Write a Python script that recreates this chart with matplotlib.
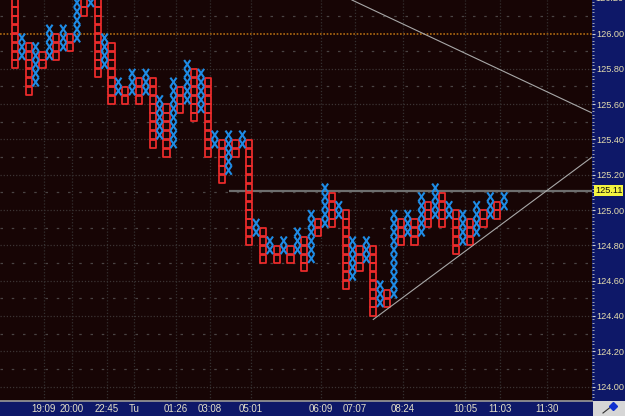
import numpy as np
import matplotlib
matplotlib.use("Agg")
import matplotlib.pyplot as plt
from matplotlib.collections import LineCollection, PatchCollection
from matplotlib.patches import Rectangle
from matplotlib.ticker import MultipleLocator
from matplotlib.transforms import blended_transform_factory

# point & figure columns, box size 0.05 (high / low box of each column)
col_type = ["O", "X"] * 36
col_high = [126.15, 125.95, 125.90, 125.90, 125.85, 126.00, 125.95, 126.00, 125.95, 126.20,
            126.15, 126.30, 126.25, 125.95, 125.90, 125.70, 125.65, 125.75, 125.70, 125.75,
            125.70, 125.60, 125.55, 125.70, 125.65, 125.80, 125.75, 125.75, 125.70, 125.40,
            125.35, 125.40, 125.35, 125.40, 125.35, 124.90, 124.85, 124.80, 124.75, 124.80,
            124.75, 124.85, 124.80, 124.95, 124.90, 125.10, 125.05, 125.00, 124.95, 124.80,
            124.75, 124.80, 124.75, 124.55, 124.50, 124.95, 124.90, 124.95, 124.90, 125.05,
            125.00, 125.10, 125.05, 125.00, 124.95, 124.95, 124.90, 125.00, 124.95, 125.05,
            125.00, 125.05]
col_low = [125.80, 125.85, 125.65, 125.70, 125.80, 125.85, 125.85, 125.90, 125.90, 125.95,
           126.10, 126.15, 125.75, 125.80, 125.60, 125.65, 125.60, 125.65, 125.60, 125.65,
           125.35, 125.40, 125.30, 125.35, 125.55, 125.60, 125.50, 125.55, 125.30, 125.35,
           125.15, 125.20, 125.30, 125.35, 124.80, 124.85, 124.70, 124.75, 124.70, 124.75,
           124.70, 124.75, 124.65, 124.70, 124.85, 124.90, 124.90, 124.95, 124.55, 124.60,
           124.65, 124.70, 124.40, 124.45, 124.45, 124.50, 124.80, 124.85, 124.80, 124.85,
           124.90, 124.95, 124.90, 124.95, 124.75, 124.80, 124.80, 124.85, 124.90, 124.95,
           124.95, 125.00]
box = 0.05

time_ticks = [4.14, 8.27, 13.35, 17.27, 23.37, 28.30, 34.25, 44.41, 49.35, 56.31, 65.31, 70.39, 77.21]
time_labels = ["19:09", "20:00", "22:45", "Tu", "01:26", "03:08", "05:01",
               "06:09", "07:07", "08:24", "10:05", "11:03", "11:30"]

last_price = 125.11
last_line_start = 31
upper_trend = ([48.9, 83.75], [126.19, 125.55])
lower_trend = ([52.0, 83.75], [124.38, 125.30])

plt.rcParams["font.family"] = ["Liberation Sans", "DejaVu Sans"]
fs = 6.6

navy = "#0e1868"
fig = plt.figure(figsize=(6.25, 4.16), dpi=100)
fig.patch.set_facecolor(navy)
ax = fig.add_axes([0, 15 / 416, 592 / 625, 401 / 416])
ax.set_facecolor("#170505")
ax.set_xlim(-2.18, 83.75)
ax.set_ylim(123.918, 126.19)

# horizontal grid
for lvl in np.arange(124.0, 126.3, 0.1):
    lvl = round(lvl, 2)
    if abs(lvl - 126.0) < 1e-6:
        continue
    if round(lvl * 10) % 2 == 0:
        ax.axhline(lvl, color="#3c3434", lw=0.9, ls=(0, (1, 1.5)), zorder=1)
    else:
        ax.axhline(lvl, color="#4a4444", lw=0.9, ls=(0, (2, 7)), zorder=1)
ax.axhline(126.0, color="#b06a10", lw=1.2, ls=(0, (1, 1)), zorder=1)

ax.set_xticks(time_ticks)
ax.set_xticklabels(time_labels)
ax.grid(axis="x", color="#343030", lw=0.9, ls=(0, (1, 1.5)), zorder=1)

# boxes
o_boxes = []
x_segs = []
hw = 0.45
for i, (t, hi, lo) in enumerate(zip(col_type, col_high, col_low)):
    n = int(round((hi - lo) / box)) + 1
    for k in range(n):
        p = lo + k * box
        if t == "O":
            o_boxes.append(Rectangle((i - hw, p + 0.002), 2 * hw, box - 0.004))
        else:
            x_segs.append([(i - hw, p), (i + hw, p + box)])
            x_segs.append([(i - hw, p + box), (i + hw, p)])

ax.add_collection(PatchCollection(o_boxes, facecolor="none", edgecolor="#f02c2c",
                                  linewidth=1.25, zorder=3))
ax.add_collection(LineCollection(x_segs, colors="#1e8ce6", linewidths=1.5, zorder=3))

# last price line and trend lines
ax.hlines(last_price, last_line_start, 83.75, color="#6e6e6e", lw=1.6, zorder=2)
ax.plot(*upper_trend, color="#a8a8a8", lw=0.8, zorder=4)
ax.plot(*lower_trend, color="#a8a8a8", lw=0.8, zorder=4)

# axes styling
for side in ["top", "left", "right"]:
    ax.spines[side].set_visible(False)
ax.spines["bottom"].set_color("#9a9a9a")
ax.spines["bottom"].set_linewidth(1.2)

ax.yaxis.tick_right()
ax.set_yticks(np.arange(124.0, 126.01, 0.2))
ax.set_yticklabels([f"{v:.2f}" for v in np.arange(124.0, 126.01, 0.2)])
ax.yaxis.set_minor_locator(MultipleLocator(0.02))
ax.tick_params(axis="y", which="major", length=2.5, width=0.8, color="#d0d0d0",
               labelcolor="#e4dcae", labelsize=fs, pad=0.5)
ax.tick_params(axis="y", which="minor", length=1.5, width=0.6, color="#c0c0c0")
ax.tick_params(axis="x", length=0, labelcolor="#e4e0c8", labelsize=fs + 0.4, pad=2.5)

trans = blended_transform_factory(ax.transAxes, ax.transData)
ax.text(1.005, 126.20, "126.20", transform=trans, ha="left", va="center",
        fontsize=fs, color="#e4dcae", clip_on=False)
ax.text(1.005, last_price, f"{last_price:.2f}", transform=trans, ha="left", va="center",
        fontsize=fs, color="#101010", clip_on=False,
        bbox=dict(facecolor="#f4f440", edgecolor="none", pad=0.5))

# corner box with pen icon
fig.patches.append(Rectangle((593 / 625, 0), 32 / 625, 15 / 416, transform=fig.transFigure,
                             facecolor="#d6d6d6", edgecolor="none", zorder=5))
fig.lines.append(plt.Line2D([603 / 625, 612 / 625], [3 / 416, 10 / 416], transform=fig.transFigure,
                            color="#303030", lw=0.8, zorder=6))
fig.lines.append(plt.Line2D([613 / 625], [10 / 416], transform=fig.transFigure, marker="D",
                            markersize=4, color="#1030d0", zorder=6))

fig.savefig("out.png", dpi=100, facecolor=navy)
